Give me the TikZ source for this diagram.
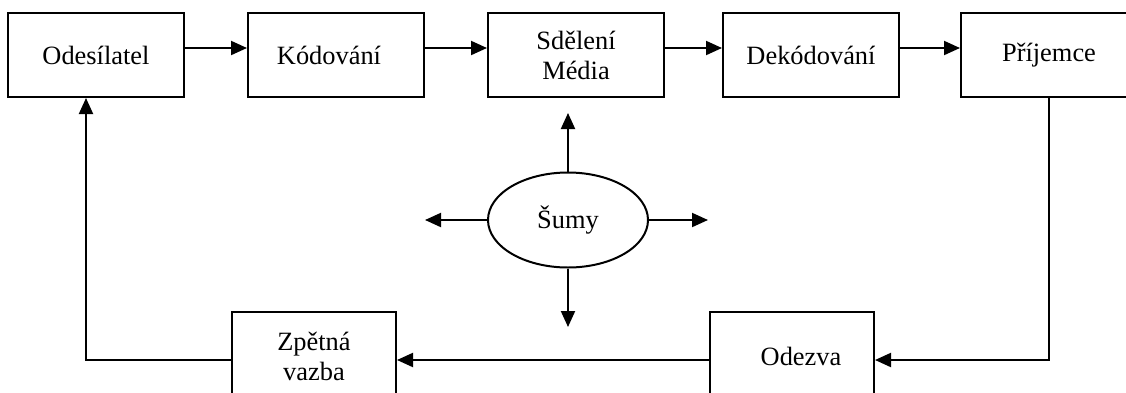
\documentclass[tikz,border=0pt]{standalone}
\usepackage{fontspec}
\setmainfont{Liberation Serif}
\usetikzlibrary{calc,
	positioning,
	shapes,
	arrows.meta}
\tikzstyle{blk}=[draw, line width=1pt, minimum width=88pt, minimum height=42pt, align=center, inner sep=0]
\tikzstyle{blkb}=[draw, line width=1pt, minimum width=82pt, minimum height=44pt, align=center, inner sep=0]
\tikzstyle{noise}=[draw, ellipse, line width=1pt, minimum width=80pt, minimum height=47.5pt, inner sep=0]
\tikzstyle{arr}=[line width=1pt, -{Triangle[length=8pt,width=7pt]}]

\begin{document}
\begin{tikzpicture}[x=0.5pt, y=-0.5pt, font=\fontsize{13.2}{15}\selectfont]
            \clip (0,0) rectangle (1126,392);
            % horni rada
            \node[blk] (ode) at (96,55) {Odesílatel};
            \node[blk] (kod) at (336,55) {Kódování\hspace{7pt}};
            \node[blk] (sdm) at (576,55) {Sdělení\\Média};
            \node[blk] (dek) at (811,55) {Dekódování};
            \node[blk] (pri) at (1049,55) {Příjemce};
            % dolni rada
            \node[blkb] (zpv) at (314,356) {Zpětná\\vazba};
            \node[blkb] (odz) at (792,356) {\hspace{9pt}Odezva};
            % sumy
            \node[noise] (sum) at (568,220) {Šumy};
            \coordinate (sn) at (568,113);
            \coordinate (sw) at (425,220);
            \coordinate (se) at (708,220);
            \coordinate (ss) at (568,327);

            \draw[arr] ([yshift=3.5pt]ode.east) -- ([yshift=3.5pt]kod.west);
            \draw[arr] ([yshift=3.5pt]kod.east) -- ([yshift=3.5pt]sdm.west);
            \draw[arr] ([yshift=3.5pt]sdm.east) -- ([yshift=3.5pt]dek.west);
            \draw[arr] ([yshift=3.5pt]dek.east) -- ([yshift=3.5pt]pri.west);
            \draw[arr] (pri.south) |- ([yshift=-2pt]odz.east);
            \draw[arr] ([yshift=-2pt]odz.west) -- ([yshift=-2pt]zpv.east);
            \draw[arr] ([yshift=-2pt]zpv.west) -| ([xshift=-5pt]ode.south);
            \draw[arr] (sum.north) -- (sn);
            \draw[arr] (sum.west) -- (sw);
            \draw[arr] (sum.east) -- (se);
            \draw[arr] (sum.south) -- (ss);
\end{tikzpicture}
\end{document}
